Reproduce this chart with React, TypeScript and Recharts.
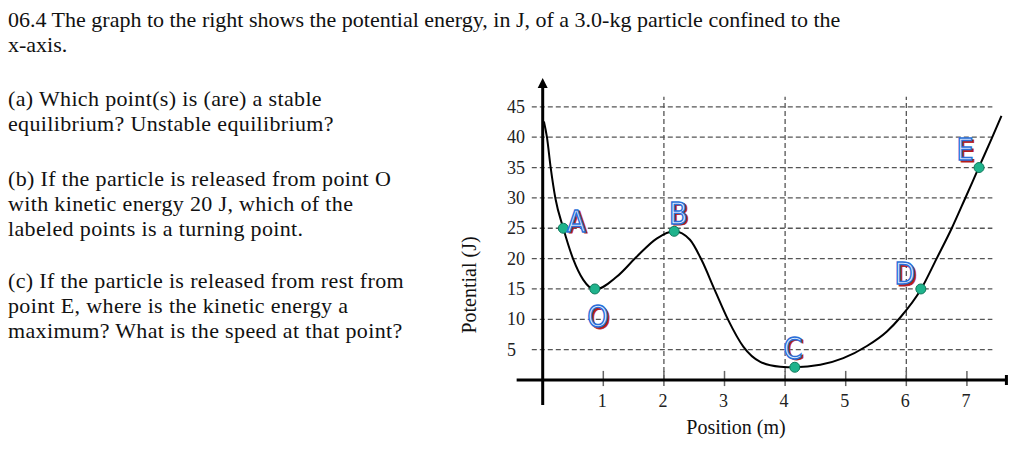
import React from 'react';
import {
  ComposedChart,
  Line,
  Scatter,
  XAxis,
  YAxis,
  ReferenceLine,
  ReferenceDot,
} from 'recharts';

// curve: position (m) -> potential (J)
const positions = [0.02, 0.07, 0.13, 0.21, 0.34, 0.5, 0.67, 0.86, 1.22, 1.55, 1.88, 2.17, 2.43, 2.62, 2.84, 3.06, 3.31, 3.59, 3.92, 4.16, 4.58, 4.96, 5.35, 5.68, 5.9, 6.24, 6.5, 6.75, 6.97, 7.2, 7.41, 7.57];
const potentials = [42.6, 40, 35.1, 29.9, 25, 20, 16.5, 14.9, 17.0, 20.3, 23.3, 24.5, 23.1, 19.8, 14.8, 9.9, 5.5, 3.0, 2.2, 2.1, 2.5, 3.6, 5.6, 8.0, 10.3, 14.9, 20, 25, 29.9, 35.1, 39.8, 43.5];

// labeled points
const pointNames = ['A', 'O', 'B', 'C', 'D', 'E'];
const pointX = [0.34, 0.86, 2.17, 4.16, 6.24, 7.2];
const pointY = [25, 15, 24.5, 2.1, 15, 35];

const yTicks = [5, 10, 15, 20, 25, 30, 35, 40, 45];
const xTicks = [1, 2, 3, 4, 5, 6, 7];
const xGridAt = [2, 4, 6];

const curveData = positions.map((x, i) => ({ x, u: potentials[i] }));
const pointData = pointNames.map((name, i) => ({ name, x: pointX[i], y: pointY[i] }));

// label placement relative to its dot (px)
const LABEL_OFFSET: Record<string, [number, number]> = {
  A: [13, -7],
  O: [3, 28],
  B: [4, -18],
  C: [-2, -19],
  D: [-16, -15],
  E: [-14, -18],
};

const SERIF = '"Liberation Serif", "Times New Roman", serif';
const NARROW = '"Liberation Sans Narrow", "Arial Narrow", "DejaVu Sans Condensed", sans-serif';
const GRID = '#555';

const YTick = ({ x, y, payload }: any) => (
  <text x={x - 20.5} y={y + 6} textAnchor="start" fontFamily={SERIF} fontSize={18} fill="#222">
    {payload.value}
  </text>
);

const XTick = ({ x, y, payload }: any) => (
  <text x={x - 1} y={y + 19.5} textAnchor="middle" fontFamily={SERIF} fontSize={18} fill="#222">
    {payload.value}
  </text>
);

const PointMark = ({ cx, cy, payload }: any) => {
  const [dx, dy] = LABEL_OFFSET[payload.name] || [0, -18];
  const lx = cx + dx;
  const ly = cy + dy + 10.5;
  return (
    <g>
      <circle cx={cx} cy={cy} r={5} fill="#1fb38c" stroke="#0f7a5c" strokeWidth={1} />
      <text x={lx + 2} y={ly + 1.5} textAnchor="middle" fontFamily={NARROW} fontSize={30}
        fill="#b81c1c" stroke="#b81c1c" strokeWidth={0.8}>
        {payload.name}
      </text>
      <text x={lx} y={ly} textAnchor="middle" fontFamily={NARROW} fontSize={30}
        fill="#e4f0ff" stroke="#2a6fd8" strokeWidth={1.4}>
        {payload.name}
      </text>
    </g>
  );
};

const ArrowUp = ({ cx, cy }: any) => (
  <path d={`M${cx},${cy} L${cx - 5},${cy + 10} L${cx + 5},${cy + 10} Z`} fill="#000" />
);

const AxisEnd = ({ cx, cy }: any) => (
  <rect x={cx - 2} y={cy - 5} width={3} height={10} fill="#000" />
);

const textLine = (top: number, spacing = 0): React.CSSProperties => ({
  position: 'absolute',
  left: 8,
  top,
  fontFamily: SERIF,
  fontSize: 22,
  lineHeight: '25px',
  letterSpacing: spacing,
  color: '#111',
  whiteSpace: 'nowrap',
});

export default function App() {
  return (
    <div style={{ position: 'absolute', left: 0, top: 0, width: 1024, height: 455, background: '#fff', overflow: 'hidden' }}>
      <div style={textLine(7)}>
        06.4 The graph to the right shows the potential energy, in J, of a 3.0-kg particle confined to the
        <br />
        x-axis.
      </div>
      <div style={textLine(86, 0.35)}>
        (a) Which point(s) is (are) a stable
        <br />
        equilibrium? Unstable equilibrium?
      </div>
      <div style={textLine(166, 0.35)}>
        (b) If the particle is released from point O
        <br />
        with kinetic energy 20 J, which of the
        <br />
        labeled points is a turning point.
      </div>
      <div style={textLine(268, 0.35)}>
        (c) If the particle is released from rest from
        <br />
        point E, where is the kinetic energy a
        <br />
        maximum? What is the speed at that point?
      </div>

      <div
        style={{
          position: 'absolute',
          left: 469,
          top: 285,
          transform: 'translate(-50%, -50%) rotate(-90deg)',
          fontFamily: SERIF,
          fontSize: 20,
          whiteSpace: 'nowrap',
          color: '#111',
        }}
      >
        Potential (J)
      </div>
      <div
        style={{
          position: 'absolute',
          left: 736,
          top: 427,
          transform: 'translate(-50%, -50%)',
          fontFamily: SERIF,
          fontSize: 20,
          whiteSpace: 'nowrap',
          color: '#111',
        }}
      >
        Position (m)
      </div>

      <div style={{ position: 'absolute', left: 440, top: 60 }}>
        <ComposedChart
          width={584}
          height={395}
          data={curveData}
          margin={{ top: 16.5, right: 8.6, left: 27.55, bottom: 17.1 }}
        >
          <XAxis
            dataKey="x"
            type="number"
            domain={[-0.25, 7.8]}
            ticks={xTicks}
            axisLine={false}
            tickLine={false}
            tickSize={0}
            tickMargin={0}
            height={50}
            tick={<XTick />}
            interval={0}
          />
          <YAxis
            type="number"
            domain={[-1.3, 50]}
            ticks={yTicks}
            axisLine={false}
            tickLine={false}
            tickSize={0}
            tickMargin={0}
            width={60}
            tick={<YTick />}
            interval={0}
          />

          {yTicks.map((v) => (
            <ReferenceLine
              key={`h${v}`}
              segment={[{ x: -0.18, y: v }, { x: 7.42, y: v }]}
              stroke={GRID}
              strokeWidth={1.3}
              strokeDasharray="5 3"
              ifOverflow="visible"
            />
          ))}
          {xGridAt.map((v) => (
            <ReferenceLine
              key={`v${v}`}
              segment={[{ x: v, y: 0 }, { x: v, y: 46.65 }]}
              stroke={GRID}
              strokeWidth={1.3}
              strokeDasharray="5 3"
              ifOverflow="visible"
            />
          ))}
          {xTicks.map((v) => (
            <ReferenceLine
              key={`t${v}`}
              segment={[{ x: v, y: 1.5 }, { x: v, y: -1 }]}
              stroke="#666"
              strokeWidth={1.5}
              ifOverflow="visible"
            />
          ))}

          <ReferenceLine
            segment={[{ x: -0.43, y: 0 }, { x: 7.66, y: 0 }]}
            stroke="#000"
            strokeWidth={3}
            ifOverflow="visible"
          />
          <ReferenceLine
            segment={[{ x: 0, y: -4.1 }, { x: 0, y: 48.5 }]}
            stroke="#000"
            strokeWidth={3}
            ifOverflow="visible"
          />
          <ReferenceDot x={0} y={49.75} ifOverflow="visible" shape={<ArrowUp />} />
          <ReferenceDot x={7.66} y={0} ifOverflow="visible" shape={<AxisEnd />} />

          <Line
            dataKey="u"
            type="monotone"
            stroke="#000"
            strokeWidth={2}
            dot={false}
            activeDot={false}
            isAnimationActive={false}
          />
          <Scatter
            data={pointData}
            dataKey="y"
            isAnimationActive={false}
            shape={<PointMark />}
          />
        </ComposedChart>
      </div>
    </div>
  );
}
